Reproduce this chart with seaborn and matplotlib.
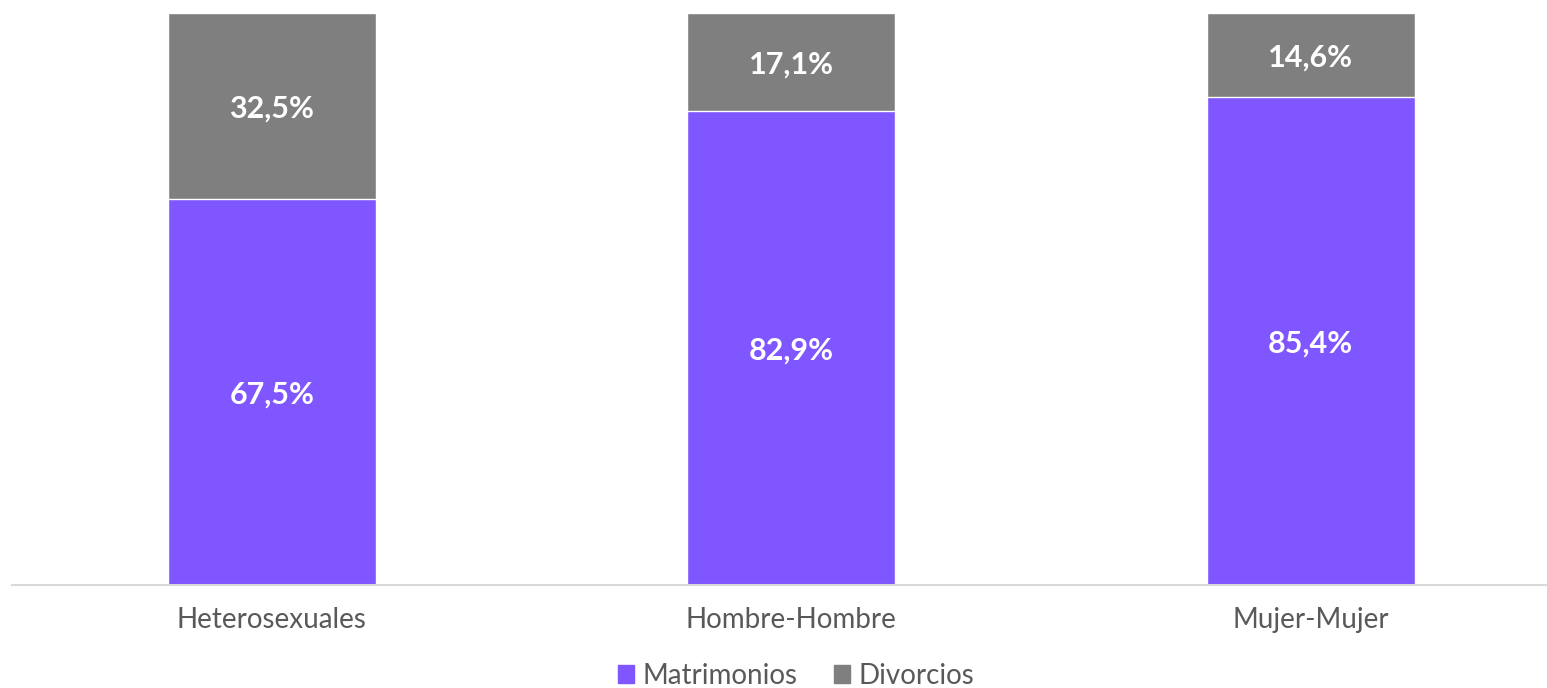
import matplotlib.pyplot as plt
import pandas as pd
import seaborn as sns
from matplotlib.patches import Patch

categories = ["Heterosexuales", "Hombre-Hombre", "Mujer-Mujer"]
matrimonios = [67.5, 82.9, 85.4]
divorcios = [32.5, 17.1, 14.6]

PURPLE = "#7F56FF"
GRAY = "#7F7F7F"
TEXT = "#595959"

df = pd.DataFrame({"grupo": categories, "matrimonios": matrimonios, "divorcios": divorcios})
df["total"] = df["matrimonios"] + df["divorcios"]

sns.set_theme(style="white")
plt.rcParams["font.family"] = ["Lato", "DejaVu Sans"]

W, H = 1547, 688
fig = plt.figure(figsize=(W / 100, H / 100), dpi=100)
ax = fig.add_axes([12 / W, (H - 585) / H, (W - 12) / W, (585 - 13) / H])

sns.barplot(data=df, x="grupo", y="total", color=GRAY, width=0.4, saturation=1, ax=ax)
sns.barplot(data=df, x="grupo", y="matrimonios", color=PURPLE, width=0.4, saturation=1, ax=ax)

ax.set_xlim(-0.5, 2.455)
ax.set_ylim(0, 100)

for i, (m, d) in enumerate(zip(df["matrimonios"], df["divorcios"])):
    ax.text(i, m / 2, f"{m:.1f}%".replace(".", ","), ha="center", va="center_baseline",
            color="white", fontsize=22, fontweight="bold")
    ax.text(i, m + d / 2, f"{d:.1f}%".replace(".", ","), ha="center", va="center_baseline",
            color="white", fontsize=22, fontweight="bold")

ax.set_xlabel("")
ax.set_ylabel("")
ax.set_yticks([])
for s in ["top", "right", "left"]:
    ax.spines[s].set_visible(False)
ax.spines["bottom"].set_color("#D9D9D9")
ax.spines["bottom"].set_linewidth(1.5)
ax.tick_params(axis="x", length=0, pad=16, labelsize=20, labelcolor=TEXT)

handles = [Patch(color=PURPLE, label="Matrimonios"), Patch(color=GRAY, label="Divorcios")]
fig.legend(handles=handles, loc="center", bbox_to_anchor=(796 / W, 1 - 676 / H), ncol=2,
           frameon=False, fontsize=20, labelcolor=TEXT, handlelength=0.6, handleheight=0.6,
           handletextpad=0.3, columnspacing=1.3)

fig.savefig("out.png", dpi=100)
